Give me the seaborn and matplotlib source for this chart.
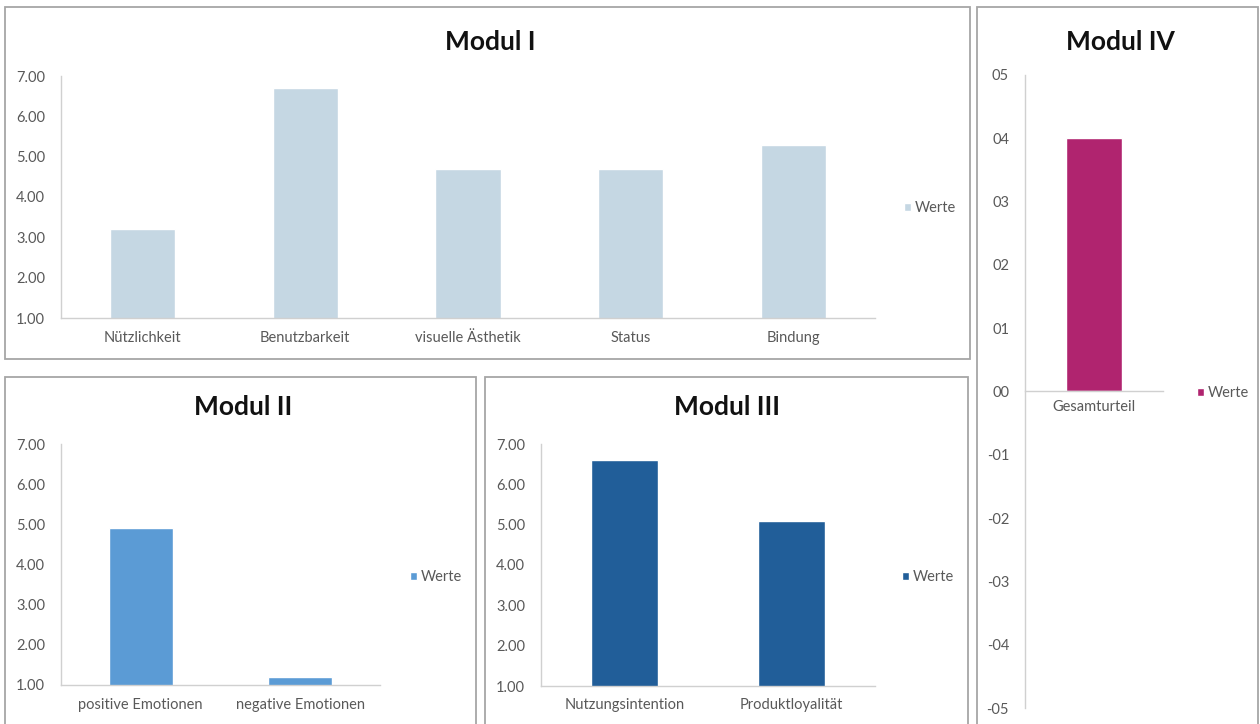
import matplotlib
matplotlib.use("Agg")
import matplotlib.pyplot as plt
import seaborn as sns
from matplotlib.patches import Rectangle
from matplotlib.ticker import FuncFormatter, FixedLocator

# ---------------- data ----------------
m1_cats = ["Nützlichkeit", "Benutzbarkeit", "visuelle Ästhetik", "Status", "Bindung"]
m1_vals = [3.2, 6.7, 4.7, 4.7, 5.3]
m2_cats = ["positive Emotionen", "negative Emotionen"]
m2_vals = [4.9, 1.2]
m3_cats = ["Nutzungsintention", "Produktloyalität"]
m3_vals = [6.6, 5.1]
m4_cats = ["Gesamturteil"]
m4_vals = [4.0]
ticks_1_7 = [1, 2, 3, 4, 5, 6, 7]
ticks_m4 = [-5, -4, -3, -2, -1, 0, 1, 2, 3, 4, 5]
series_label = "Werte"
titles = ["Modul I", "Modul II", "Modul III", "Modul IV"]

# ---------------- style ----------------
sns.set_theme(style="white")
plt.rcParams["font.family"] = ["Lato", "DejaVu Sans"]

W, H = 1260, 724
fig = plt.figure(figsize=(W / 100, H / 100), dpi=100)
fig.patch.set_facecolor("white")

SPINE = "#D0D0D0"
TICK = "#595959"
BOX = "#A6A6A6"
FS = 10.5


def fx(x):
    return x / W


def fy(y):
    return 1 - y / H


def add_box(l, t, r, b):
    fig.add_artist(Rectangle((fx(l), fy(b)), fx(r - l), (b - t) / H,
                             transform=fig.transFigure, fill=False,
                             edgecolor=BOX, lw=1.3))


def fmt_2dec(v, pos):
    return f"{v:.2f}"


def fmt_m4(v, pos):
    iv = int(round(v))
    return ("-" if iv < 0 else "") + f"{abs(iv):02d}"


def panel(rect, cats, vals, color, ylim, yticks, fmt, title, title_xy, leg_xy, zero_axis=False):
    l, t, r, b = rect
    ax = fig.add_axes([fx(l), fy(b), fx(r - l), (b - t) / H])
    sns.barplot(x=cats, y=vals, color=color, width=0.4, saturation=1,
                label=series_label, ax=ax)
    ax.set_ylim(*ylim)
    ax.yaxis.set_major_locator(FixedLocator(yticks))
    ax.yaxis.set_major_formatter(FuncFormatter(fmt))
    ax.set_xlabel("")
    ax.set_ylabel("")
    for s in ["top", "right"]:
        ax.spines[s].set_visible(False)
    for s in ["left", "bottom"]:
        ax.spines[s].set_color(SPINE)
        ax.spines[s].set_linewidth(1.0)
    if zero_axis:
        ax.spines["bottom"].set_position(("data", 0))
    ax.tick_params(axis="both", length=0, labelsize=FS, labelcolor=TICK)
    ax.tick_params(axis="y", pad=11.5)
    ax.tick_params(axis="x", pad=9 if not zero_axis else 6)
    ax.set_facecolor("none")
    ax.grid(False)
    leg = ax.legend(loc="center left", bbox_to_anchor=(fx(leg_xy[0]), fy(leg_xy[1])),
                    bbox_transform=fig.transFigure, frameon=False, fontsize=FS,
                    handlelength=0.45, handleheight=0.45, handletextpad=0.3,
                    borderpad=0, borderaxespad=0)
    for txt in leg.get_texts():
        txt.set_color(TICK)
    fig.text(fx(title_xy[0]), fy(title_xy[1]), title, ha="center", va="center",
             fontsize=19, fontweight="bold", color="#111111")
    return ax


# panel frames
add_box(5, 7, 970, 359)
add_box(5, 377, 476, 740)
add_box(485, 377, 968, 740)
add_box(977, 7, 1258, 740)

panel((61, 76, 875, 318), m1_cats, m1_vals, "#C5D7E3", (1, 7), ticks_1_7, fmt_2dec,
      titles[0], (490, 42), (904, 208))
panel((61, 444, 380, 685), m2_cats, m2_vals, "#5B9BD5", (1, 7), ticks_1_7, fmt_2dec,
      titles[1], (243, 407), (410, 577))
panel((541, 444, 875, 686), m3_cats, m3_vals, "#215E99", (1, 7), ticks_1_7, fmt_2dec,
      titles[2], (727, 407), (902, 577))
panel((1025, 75, 1163, 708), m4_cats, m4_vals, "#B0246F", (-5, 5), ticks_m4, fmt_m4,
      titles[3], (1120, 42), (1197, 393), zero_axis=True)

fig.savefig("out.png", dpi=100, facecolor="white")
